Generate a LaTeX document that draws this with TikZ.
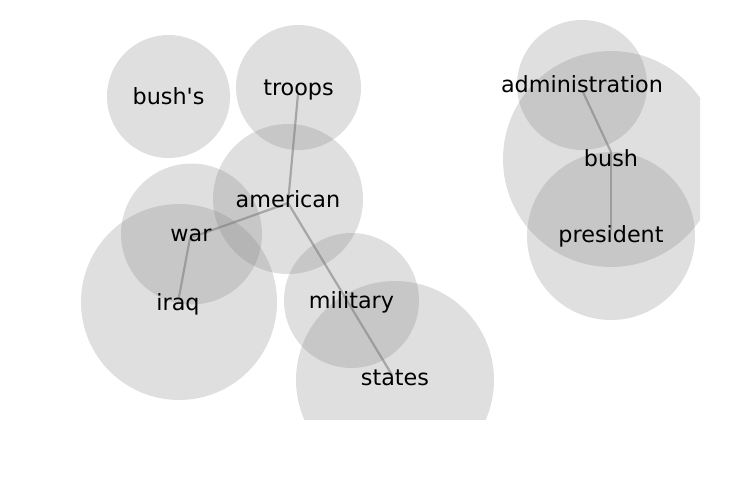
\documentclass[tikz,border=0pt]{standalone}
\usepackage{fontspec}
\setmainfont{DejaVu Sans}
\begin{document}
\begin{tikzpicture}[x=1pt,y=-1pt,
  blob/.style={fill=gray,fill opacity=0.25,draw=none},
  link/.style={draw=gray,draw opacity=0.6,line width=2.2pt},
  word/.style={font=\fontsize{22.3}{24}\selectfont,anchor=base,inner sep=0pt,text=black}]
\useasboundingbox (0,0) rectangle (743,484);
% node positions
\coordinate (T) at (298,94);
\coordinate (A) at (288,203);
\coordinate (W) at (190,238);
\coordinate (I) at (179,297);
\coordinate (S) at (392,375);
\coordinate (D) at (583,92);
\coordinate (B) at (611,152);
\coordinate (P) at (611,230);
\begin{scope}
\clip (0,0) rectangle (700,419.5);
\draw[link] (T) -- (A);
\draw[link] (A) -- (W);
\draw[link] (W) -- (I);
\draw[link] (A) -- (S);
\draw[link] (D) -- (B);
\draw[link] (B) -- (P);
\fill[blob] (168.5,96.5) circle (61.5);
\fill[blob] (298.5,87.5) circle (62.5);
\fill[blob] (288,199) circle (75);
\fill[blob] (191.5,234) circle (70.5);
\fill[blob] (179,302) circle (98);
\fill[blob] (351.5,300.5) circle (67.5);
\fill[blob] (395,380) circle (99);
\fill[blob] (582,85) circle (65);
\fill[blob] (611,159) circle (108);
\fill[blob] (611,236) circle (84);
\end{scope}
\node[word] (nbushs) at (168.5,104.5) {bush\textquotesingle s};
\node[word] (ntroops) at (298.5,95.5) {troops};
\node[word] (namerican) at (288,207) {american};
\node[word] (nwar) at (191,241) {war};
\node[word] (niraq) at (178,310) {iraq};
\node[word] (nmilitary) at (351.5,308.5) {military};
\node[word] (nstates) at (395,385.5) {states};
\node[word] (nadmin) at (582,92.7) {administration};
\node[word] (nbush) at (611,166) {bush};
\node[word] (npresident) at (611,242.7) {president};
\end{tikzpicture}
\end{document}
